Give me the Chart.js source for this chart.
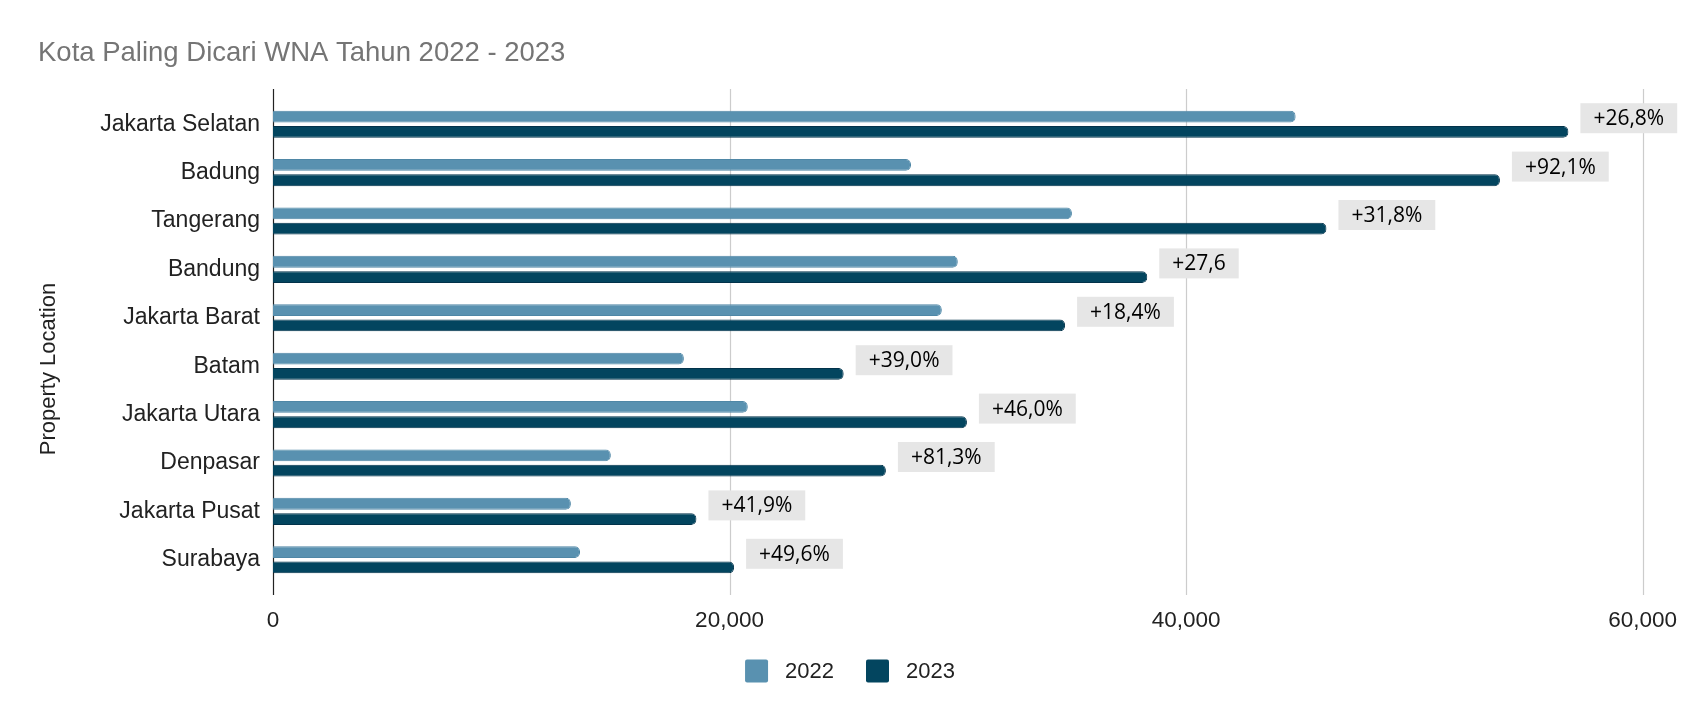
<!DOCTYPE html>
<html>
<head>
<meta charset="utf-8">
<script src="https://cdn.jsdelivr.net/npm/chart.js@4.4.0/dist/chart.umd.min.js"></script>
<style>
  body { margin: 0; background: #fff; }
  #wrap { width: 1700px; height: 721px; position: relative; }
</style>
</head>
<body>
<div id="wrap"><canvas id="cityChart"></canvas></div>
<script>
// Kota paling dicari WNA, 2022 vs 2023
const cities = ['Jakarta Selatan', 'Badung', 'Tangerang', 'Bandung', 'Jakarta Barat',
                'Batam', 'Jakarta Utara', 'Denpasar', 'Jakarta Pusat', 'Surabaya'];
const values2022 = [44800, 27950, 35000, 30000, 29300, 18000, 20800, 14800, 13050, 13450];
const values2023 = [56750, 53750, 46150, 38300, 34700, 25000, 30400, 26850, 18550, 20200];
const growthLabels = ['+26,8%', '+92,1%', '+31,8%', '+27,6', '+18,4%',
                      '+39,0%', '+46,0%', '+81,3%', '+41,9%', '+49,6%'];
const xTicks = [0, 20000, 40000, 60000];

const FONT = "'Liberation Sans', Arial, sans-serif";

// garis grid, sumbu, judul, legenda dan kotak persentase
const extras = {
    id: 'extras',
    beforeDatasetsDraw(chart) {
        const ctx = chart.ctx;
        const area = chart.chartArea;
        const x = chart.scales.x;
        ctx.save();
        xTicks.forEach(function (t) {
            const px = Math.round(x.getPixelForValue(t)) + 0.5;
            ctx.beginPath();
            ctx.moveTo(px, area.top - 11);
            ctx.lineTo(px, area.bottom + 11);
            ctx.lineWidth = 1.2;
            ctx.strokeStyle = t === 0 ? '#222222' : '#cccccc';
            ctx.stroke();
        });
        ctx.restore();
    },
    afterDatasetsDraw(chart) {
        const ctx = chart.ctx;
        const x = chart.scales.x;
        const y = chart.scales.y;
        ctx.save();

        // kotak persentase
        ctx.font = "21px 'Open Sans', sans-serif";
        ctx.textBaseline = 'middle';
        ctx.textAlign = 'center';
        growthLabels.forEach(function (txt, i) {
            const w = ctx.measureText(txt).width + 26;
            const h = 30;
            const left = x.getPixelForValue(values2023[i]) + 12;
            const cy = y.getPixelForValue(i) - 6;
            ctx.fillStyle = '#e6e6e6';
            ctx.fillRect(left, cy - h / 2, w, h);
            ctx.fillStyle = '#000000';
            ctx.fillText(txt, left + w / 2, cy + 1);
        });

        // judul
        ctx.textAlign = 'left';
        ctx.textBaseline = 'alphabetic';
        ctx.fillStyle = '#757575';
        ctx.font = '27.5px ' + FONT;
        ctx.fillText('Kota Paling Dicari WNA Tahun 2022 - 2023', 38, 61);

        // legenda
        ctx.font = '22px ' + FONT;
        ctx.textBaseline = 'middle';
        const sets = chart.data.datasets;
        const box = 23, gapText = 17, gapItem = 32;
        let total = 0;
        sets.forEach(function (ds, i) {
            total += box + gapText + ctx.measureText(ds.label).width + (i ? 0 : gapItem);
        });
        let lx = chart.width / 2 - total / 2;
        const ly = 671;
        sets.forEach(function (ds) {
            ctx.fillStyle = ds.backgroundColor;
            ctx.beginPath();
            ctx.roundRect(lx, ly - box / 2, box, box, 2);
            ctx.fill();
            lx += box + gapText;
            ctx.fillStyle = '#222222';
            ctx.fillText(ds.label, lx, ly + 1);
            lx += ctx.measureText(ds.label).width + gapItem;
        });

        // judul sumbu y
        ctx.translate(49, 369);
        ctx.rotate(-Math.PI / 2);
        ctx.textAlign = 'center';
        ctx.textBaseline = 'middle';
        ctx.fillStyle = '#222222';
        ctx.font = '22px ' + FONT;
        ctx.fillText('Property Location', 0, 0);
        ctx.restore();
    }
};

const ctx = document.getElementById('cityChart').getContext('2d');
new Chart(ctx, {
    type: 'bar',
    data: {
        labels: cities,
        datasets: [{
            label: '2022',
            data: values2022,
            backgroundColor: '#5991b0',
            borderColor: '#4f87a6',
            borderWidth: 1,
            borderRadius: 5,
            borderSkipped: 'start',
            categoryPercentage: 0.633,
            barPercentage: 0.77
        }, {
            label: '2023',
            data: values2023,
            backgroundColor: '#03455f',
            borderColor: '#02324a',
            borderWidth: 1,
            borderRadius: 5,
            borderSkipped: 'start',
            categoryPercentage: 0.633,
            barPercentage: 0.77
        }]
    },
    options: {
        indexAxis: 'y',
        responsive: true,
        maintainAspectRatio: false,
        animation: false,
        layout: {
            padding: { top: 100, right: 43, left: 0, bottom: 0 }
        },
        scales: {
            x: {
                min: 0,
                max: 60000,
                afterBuildTicks: function (scale) {
                    scale.ticks = xTicks.map(v => ({ value: v }));
                },
                afterFit: function (scale) { scale.height = 137; },
                grid: { display: false, drawTicks: false },
                border: { display: false },
                ticks: {
                    padding: 23,
                    color: '#222222',
                    font: { family: FONT, size: 22.5 },
                    callback: v => v.toLocaleString('en-US')
                }
            },
            y: {
                afterFit: function (scale) { scale.width = 273; },
                grid: { display: false, drawTicks: false },
                border: { display: false },
                ticks: {
                    padding: 13,
                    color: '#222222',
                    font: { family: FONT, size: 23 }
                }
            }
        },
        plugins: {
            legend: { display: false },
            tooltip: { enabled: false }
        }
    },
    plugins: [extras]
});
</script>
</body>
</html>
